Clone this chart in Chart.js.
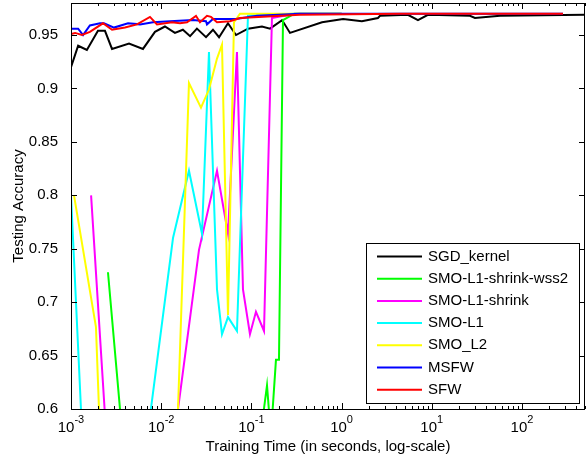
<!DOCTYPE html>
<html>
<head>
<meta charset="utf-8">
<script src="https://cdn.jsdelivr.net/npm/chart.js@4.4.0/dist/chart.umd.min.js"></script>
<style>
  body { margin: 0; background: #fff; }
</style>
</head>
<body>
<canvas id="accChart" width="586" height="458"></canvas>
<script>
// values (time in seconds, accuracy); values below 0.6 fall off the axis
var sgdTime = [0.001, 0.0012, 0.0015, 0.00199, 0.00238, 0.00285, 0.0044, 0.00628, 0.00853, 0.011, 0.0142, 0.0174, 0.0209, 0.0249, 0.0314, 0.0375, 0.0438, 0.055, 0.0675, 0.0917, 0.131, 0.161, 0.219, 0.268, 0.607, 1.04, 1.68, 2.53, 2.67, 5.44, 7.03, 9.07, 26.5, 30.1, 57, 500];
var sgdAcc = [0.920, 0.940, 0.936, 0.954, 0.954, 0.937, 0.942, 0.937, 0.953, 0.958, 0.952, 0.955, 0.949, 0.956, 0.948, 0.955, 0.948, 0.961, 0.950, 0.956, 0.958, 0.956, 0.964, 0.952, 0.962, 0.965, 0.963, 0.966, 0.968, 0.969, 0.964, 0.969, 0.968, 0.966, 0.968, 0.969];

var wss2Time = [0.00257, 0.00394, 0.1153, 0.149, 0.1646, 0.1873, 0.2023, 0.2241, 0.3, 1.0];
var wss2Acc = [0.728, 0.55, 0.55, 0.622, 0.575, 0.646, 0.646, 0.964, 0.970, 0.970];

var shrinkTime = [0.00167, 0.00257, 0.01285, 0.02625, 0.04157, 0.05504, 0.0692, 0.08071, 0.09643, 0.1124, 0.138, 0.1691, 0.3, 1.0];
var shrinkAcc = [0.80, 0.55, 0.55, 0.749, 0.823, 0.764, 0.934, 0.712, 0.670, 0.691, 0.673, 0.966, 0.970, 0.970];

var l1Time = [0.001, 0.001375, 0.00645, 0.01352, 0.02032, 0.02833, 0.03387, 0.04157, 0.04722, 0.05504, 0.0692, 0.09165, 0.3, 1.0];
var l1Acc = [0.80, 0.55, 0.55, 0.760, 0.823, 0.764, 0.934, 0.712, 0.670, 0.686, 0.673, 0.968, 0.970, 0.970];

var l2Time = [0.00108, 0.00189, 0.00215, 0.01467, 0.02032, 0.02761, 0.03387, 0.04157, 0.04722, 0.05504, 0.06412, 0.0747, 0.3, 1.0];
var l2Acc = [0.80, 0.677, 0.55, 0.55, 0.905, 0.882, 0.899, 0.928, 0.941, 0.688, 0.962, 0.970, 0.970, 0.970];

var msfwTime = [0.001, 0.0012, 0.00136, 0.00162, 0.0021, 0.00232, 0.003, 0.00429, 0.00582, 0.00811, 0.01253, 0.02252, 0.03138, 0.03219, 0.03751, 0.06745, 0.1153, 0.3456, 285];
var msfwAcc = [0.956, 0.956, 0.950, 0.959, 0.961, 0.961, 0.957, 0.961, 0.960, 0.962, 0.963, 0.964, 0.963, 0.960, 0.965, 0.965, 0.968, 0.970, 0.970];

var sfwTime = [0.001, 0.00111, 0.00132, 0.00162, 0.00226, 0.00285, 0.00397, 0.00539, 0.00751, 0.00898, 0.01318, 0.01616, 0.01932, 0.02431, 0.02692, 0.03219, 0.03565, 0.04157, 0.05791, 0.07474, 0.3456, 4.44, 285];
var sfwAcc = [0.951, 0.952, 0.950, 0.953, 0.961, 0.955, 0.957, 0.960, 0.967, 0.960, 0.962, 0.961, 0.962, 0.968, 0.962, 0.968, 0.967, 0.962, 0.963, 0.966, 0.969, 0.970, 0.970];

var yTicks = [0.6, 0.65, 0.7, 0.75, 0.8, 0.85, 0.9, 0.95];
var yTickLabels = ["0.6", "0.65", "0.7", "0.75", "0.8", "0.85", "0.9", "0.95"];
var xMajorExp = [-3, -2, -1, 0, 1, 2];
var xTickLabels = ["-3", "-2", "-1", "0", "1", "2"];

var FONT = "'Liberation Sans', Arial, Helvetica, sans-serif";

function pts(xs, ys) {
    return xs.map(function (x, i) { return { x: x, y: ys[i] }; });
}

function line(label, xs, ys, color) {
    return {
        label: label,
        data: pts(xs, ys),
        borderColor: color,
        backgroundColor: color,
        borderWidth: 2,
        pointRadius: 0,
        tension: 0,
        fill: false
    };
}

// first dataset is painted last (on top), so the list runs from SFW back to SGD_kernel
var datasets = [
    line("SFW", sfwTime, sfwAcc, "#ff0000"),
    line("MSFW", msfwTime, msfwAcc, "#0000ff"),
    line("SMO_L2", l2Time, l2Acc, "#ffff00"),
    line("SMO-L1", l1Time, l1Acc, "#00ffff"),
    line("SMO-L1-shrink", shrinkTime, shrinkAcc, "#ff00ff"),
    line("SMO-L1-shrink-wss2", wss2Time, wss2Acc, "#00ff00"),
    line("SGD_kernel", sgdTime, sgdAcc, "#000000")
];

// box, inward ticks, x labels with exponents and the legend
var axisBox = {
    id: "axisBox",
    afterDraw: function (chart) {
        var ctx = chart.ctx, a = chart.chartArea;
        var xs = chart.scales.x, ys = chart.scales.y;
        ctx.save();
        ctx.strokeStyle = "#000";
        ctx.lineWidth = 1;
        ctx.beginPath();
        for (var k = -3; k <= 2; k++) {
            for (var m = 1; m <= 9; m++) {
                var v = m * Math.pow(10, k);
                if (v > xs.max) continue;
                var px = Math.round(xs.getPixelForValue(v)) + 0.5;
                var len = m === 1 ? 6 : 3;
                ctx.moveTo(px, a.bottom); ctx.lineTo(px, a.bottom - len);
                ctx.moveTo(px, a.top); ctx.lineTo(px, a.top + len);
            }
        }
        yTicks.forEach(function (v) {
            var py = Math.round(ys.getPixelForValue(v)) + 0.5;
            ctx.moveTo(a.left, py); ctx.lineTo(a.left + 6, py);
            ctx.moveTo(a.right, py); ctx.lineTo(a.right - 6, py);
        });
        ctx.stroke();
        ctx.strokeRect(a.left + 0.5, a.top + 0.5, a.right - a.left - 1, a.bottom - a.top);

        // x tick labels: 10 with a raised exponent
        ctx.fillStyle = "#000";
        ctx.textBaseline = "middle";
        ctx.textAlign = "left";
        xMajorExp.forEach(function (e, i) {
            var cx = xs.getPixelForValue(Math.pow(10, e));
            ctx.font = "15px " + FONT;
            var wb = ctx.measureText("10").width;
            ctx.font = "11px " + FONT;
            var we = ctx.measureText(xTickLabels[i]).width;
            var x0 = cx - (wb + we) / 2;
            ctx.font = "15px " + FONT;
            ctx.fillText("10", x0, a.bottom + 19);
            ctx.font = "11px " + FONT;
            ctx.fillText(xTickLabels[i], x0 + wb, a.bottom + 11);
        });

        // legend
        var lx = 366, ly = 243, lw = 213, lh = 160;
        ctx.fillStyle = "#fff";
        ctx.fillRect(lx, ly, lw, lh);
        ctx.strokeRect(lx + 0.5, ly + 0.5, lw, lh);
        ctx.font = "15px " + FONT;
        var items = chart.data.datasets.slice().reverse();
        items.forEach(function (ds, i) {
            var ry = ly + 13.5 + i * 22.2;
            ctx.strokeStyle = ds.borderColor;
            ctx.lineWidth = 2;
            ctx.beginPath();
            ctx.moveTo(lx + 11, ry); ctx.lineTo(lx + 56, ry);
            ctx.stroke();
            ctx.fillStyle = "#000";
            ctx.fillText(ds.label, lx + 62, ry);
        });
        ctx.restore();
    }
};

var ctx = document.getElementById("accChart").getContext("2d");
var accChart = new Chart(ctx, {
    type: "line",
    data: { datasets: datasets },
    options: {
        responsive: false,
        animation: false,
        devicePixelRatio: 1,
        layout: { padding: { top: 3, right: 1, left: 0, bottom: 0 } },
        plugins: {
            legend: { display: false },
            tooltip: { enabled: false }
        },
        scales: {
            x: {
                type: "logarithmic",
                min: 0.001,
                max: 500,
                grid: { display: false },
                border: { display: false },
                ticks: { display: false },
                title: {
                    display: true,
                    text: "Training Time (in seconds, log-scale)",
                    color: "#000",
                    font: { family: FONT, size: 15 },
                    padding: { top: 0, bottom: 2 }
                },
                afterFit: function (s) { s.height = 49; s.paddingLeft = 0; s.paddingRight = 0; }
            },
            y: {
                min: 0.6,
                max: 0.98,
                grid: { display: false },
                border: { display: false },
                afterBuildTicks: function (s) {
                    s.ticks = yTicks.map(function (v) { return { value: v }; });
                },
                ticks: {
                    color: "#000",
                    font: { family: FONT, size: 15 },
                    padding: 5,
                    callback: function (v, i) { return yTickLabels[i]; }
                },
                title: {
                    display: true,
                    text: "Testing Accuracy",
                    color: "#000",
                    font: { family: FONT, size: 15 },
                    padding: { top: 10, bottom: 0 }
                },
                afterFit: function (s) { s.width = 71; s.paddingTop = 0; s.paddingBottom = 0; }
            }
        }
    },
    plugins: [axisBox]
});
</script>
</body>
</html>
